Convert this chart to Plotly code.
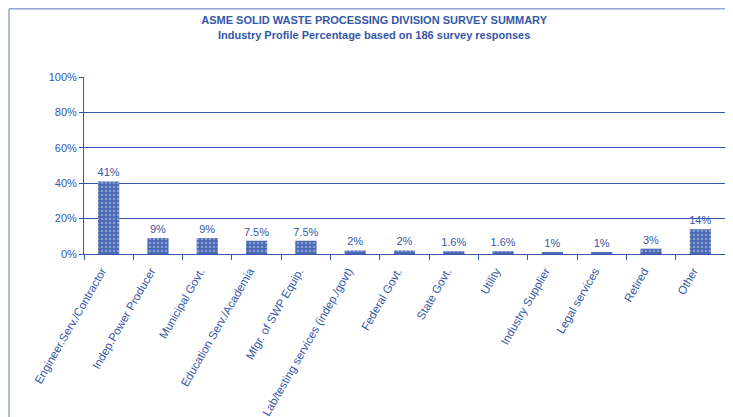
import plotly.graph_objects as go

categories = ["Engineer.Serv./Contractor", "Indep.Power Producer", "Municipal Govt.",
              "Education Serv./Academia", "Mfgr. of SWP Equip.",
              "Lab/testing services (indep./govt)", "Federal Govt.", "State Govt.",
              "Utility", "Industry Supplier", "Legal services", "Retired", "Other"]
values = [41, 9, 9, 7.5, 7.5, 2, 2, 1.6, 1.6, 1, 1, 3, 14]
labels = ["41%", "9%", "9%", "7.5%", "7.5%", "2%", "2%", "1.6%", "1.6%", "1%", "1%", "3%", "14%"]
ytick_vals = [0, 20, 40, 60, 80, 100]
ytick_text = ["0%", "20%", "40%", "60%", "80%", "100%"]

blue = "#3457a8"
fig = go.Figure(go.Bar(
    x=categories, y=values, text=labels, textposition="outside",
    textfont=dict(color=blue, size=11, family="Liberation Sans"),
    cliponaxis=False, width=0.43,
    marker=dict(color="#5a78bd", line=dict(width=0),
                pattern=dict(shape=".", fgcolor="#c8d3ee", bgcolor="#4a68b3", size=4, solidity=0.3)),
))

fig.update_layout(
    width=725, height=409,
    margin=dict(l=76, r=8, t=69, b=163, autoexpand=False),
    paper_bgcolor="white", plot_bgcolor="white",
    font=dict(family="Liberation Sans", color=blue, size=11),
    title=dict(text="<b>ASME SOLID WASTE PROCESSING DIVISION SURVEY SUMMARY</b><br><b>Industry Profile Percentage based on 186 survey responses</b>",
               x=0.505, xanchor="center", y=0.96, yanchor="top",
               font=dict(size=11, color=blue, family="Liberation Sans")),
    showlegend=False,
    uniformtext=dict(minsize=11, mode="show"),
)
fig.update_xaxes(tickangle=-60, showline=True, linecolor=blue, linewidth=1,
                 ticks="outside", tickson="boundaries", ticklen=5, tickcolor=blue,
                 tickfont=dict(size=11.5, color=blue), showgrid=False, automargin=False,
                 ticklabelshift=-7, ticklabelstandoff=5)
fig.update_yaxes(range=[0, 100], tickvals=ytick_vals, ticktext=ytick_text,
                 showline=True, linecolor=blue, linewidth=1, ticks="outside", ticklen=4,
                 tickcolor=blue, showgrid=True, gridcolor=blue, gridwidth=1,
                 tickfont=dict(size=11, color=blue), zeroline=False, automargin=False)

# page frame (left and top edges)
fig.add_shape(type="line", xref="paper", yref="paper", x0=-0.117, x1=-0.117, y0=-1.0, y1=1.385,
              line=dict(color="#5a78bd", width=1))
fig.add_shape(type="line", xref="paper", yref="paper", x0=-0.117, x1=1.03, y0=1.385, y1=1.385,
              line=dict(color="#5a78bd", width=1))

fig.write_html("out.html")
